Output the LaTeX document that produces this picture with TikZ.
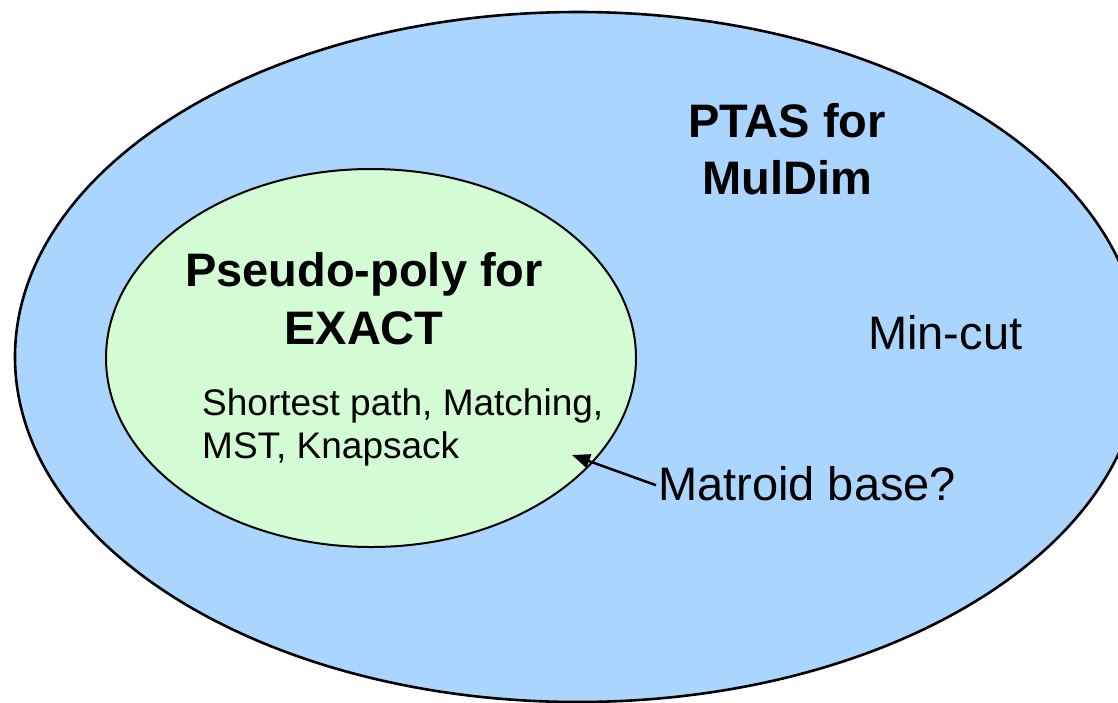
\documentclass[tikz,border=0pt]{standalone}
\usepackage{fontspec}
\setmainfont{Liberation Sans}
\usetikzlibrary{shapes.geometric,arrows.meta}
\definecolor{outerblue}{HTML}{A9D5FF}
\definecolor{innergreen}{HTML}{D4FCD4}
\tikzset{
  bigtxt/.style={font=\fontsize{47}{57}\selectfont, inner sep=0pt, anchor=base},
  bigbold/.style={font=\fontsize{47}{57}\selectfont\bfseries, inner sep=0pt, anchor=base},
  smalltxt/.style={font=\fontsize{37}{43}\selectfont, inner sep=0pt, anchor=base west},
  region/.style={ellipse, draw=black, inner sep=0pt, outer sep=0pt}
}
\begin{document}
\begin{tikzpicture}[x=1pt,y=-1pt]
\useasboundingbox (0,0) rectangle (1118,702);
\clip (0,0) rectangle (1118,702);
\node[region, fill=outerblue, line width=2.6pt, minimum width=1126pt, minimum height=690pt] (outer) at (578,357) {};
\node[region, fill=innergreen, line width=2pt, minimum width=530pt, minimum height=378pt] (inner) at (371,358) {};
\node[bigbold] (ptas1) at (787,137) {PTAS for};
\node[bigbold] (ptas2) at (787,194) {MulDim};
\node[bigbold] (pp1) at (364,286) {Pseudo-poly for};
\node[bigbold] (pp2) at (364,344) {EXACT};
\node[bigtxt, anchor=base west] (mincut) at (868,349) {Min-cut};
\node[smalltxt] (sp1) at (202,415) {Shortest path, Matching,};
\node[smalltxt] (sp2) at (202,458) {MST, Knapsack};
\node[bigtxt, anchor=base west] (mat) at (658,500) {Matroid base?};
\coordinate (tip) at (572,455);
\draw[line width=2.5pt, -{Triangle[length=18pt,width=14pt]}] ([xshift=-2pt,yshift=-2pt]mat.west) -- (tip);
\end{tikzpicture}
\end{document}
